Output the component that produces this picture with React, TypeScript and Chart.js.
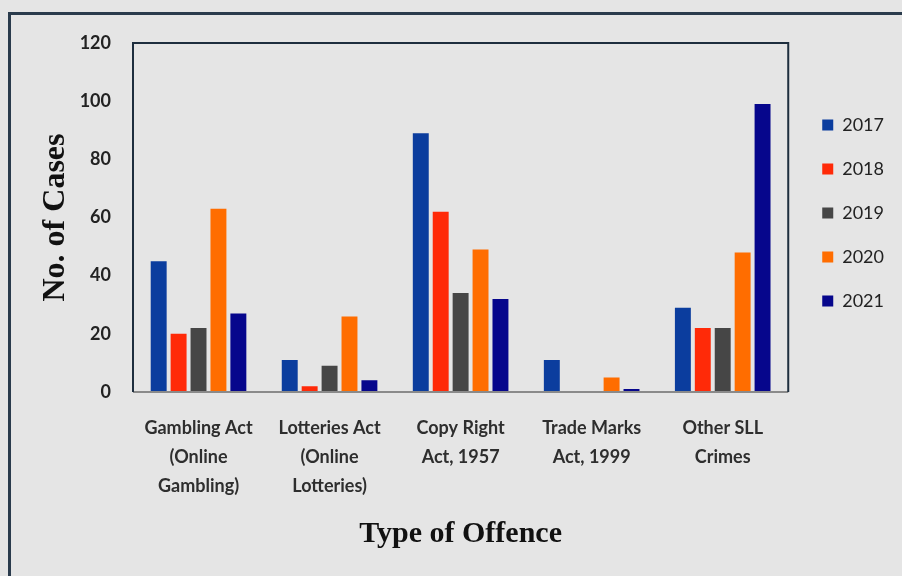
import React, { useEffect, useRef } from "react";
import { Chart, registerables } from "chart.js";

Chart.register(...registerables);

const categories: string[][] = [
  ["Gambling Act", "(Online", "Gambling)"],
  ["Lotteries Act", "(Online", "Lotteries)"],
  ["Copy Right", "Act, 1957"],
  ["Trade Marks", "Act, 1999"],
  ["Other SLL", "Crimes"],
];

const years = ["2017", "2018", "2019", "2020", "2021"];

const cases2017 = [45, 11, 89, 11, 29];
const cases2018 = [20, 2, 62, 0, 22];
const cases2019 = [22, 9, 34, 0, 22];
const cases2020 = [63, 26, 49, 5, 48];
const cases2021 = [27, 4, 32, 1, 99];

const seriesValues = [cases2017, cases2018, cases2019, cases2020, cases2021];
const seriesColors = ["#0b3d9e", "#ff2a08", "#464646", "#ff6d00", "#06068c"];

const yTicks = [0, 20, 40, 60, 80, 100, 120];

const frame = {
  id: "plotFrame",
  afterDatasetsDraw(chart: any) {
    const { ctx, chartArea } = chart;
    const { left, right, top, bottom } = chartArea;
    ctx.save();
    ctx.strokeStyle = "#8a8a8a";
    ctx.lineWidth = 2;
    ctx.beginPath();
    ctx.moveTo(left, bottom);
    ctx.lineTo(right, bottom);
    ctx.stroke();
    ctx.strokeStyle = "#1e2e3e";
    ctx.lineWidth = 2;
    ctx.beginPath();
    ctx.moveTo(left, bottom);
    ctx.lineTo(left, top);
    ctx.lineTo(right, top);
    ctx.lineTo(right, bottom);
    ctx.stroke();
    ctx.restore();
  },
};

const legendShift = {
  id: "legendShift",
  afterLayout(chart: any) {
    const lg = chart.legend;
    if (lg) {
      const h = lg.bottom - lg.top;
      lg.top = 90;
      lg.bottom = 90 + h;
      lg.left += 8;
      lg.right += 8;
    }
  },
};

export default function App() {
  const ref = useRef<HTMLCanvasElement | null>(null);

  useEffect(() => {
    if (!ref.current) return;
    const chart = new Chart(ref.current, {
      type: "bar",
      data: {
        labels: categories as any,
        datasets: years.map((y, i) => ({
          label: y,
          data: seriesValues[i],
          backgroundColor: seriesColors[i],
          borderWidth: 0,
          categoryPercentage: 0.76,
          barPercentage: 0.8,
        })),
      },
      options: {
        animation: false,
        responsive: false,
        maintainAspectRatio: false,
        layout: { padding: { left: 33, top: 43, right: 16, bottom: 14 } },
        plugins: {
          tooltip: { enabled: false },
          legend: {
            position: "right",
            align: "start",
            labels: {
              boxWidth: 11,
              boxHeight: 11,
              padding: 26,
              color: "#222",
              font: { family: "Lato", size: 18 },
            },
          },
        },
        scales: {
          x: {
            grid: { display: false },
            border: { display: false },
            ticks: {
              color: "#2e2e2e",
              font: { family: "Lato", size: 18, weight: "bold", lineHeight: 1.6 },
              maxRotation: 0,
              autoSkip: false,
              padding: 14,
            },
            title: {
              display: true,
              text: "Type of Offence",
              color: "#111",
              font: { family: "Liberation Serif", size: 30, weight: "bold" },
              padding: { top: 4, bottom: 10 },
            },
            afterFit(scale: any) {
              scale.height = 576 - 392 - 14;
            },
          },
          y: {
            min: 0,
            max: 120,
            afterBuildTicks(scale: any) {
              scale.ticks = yTicks.map((v) => ({ value: v }));
            },
            grid: { display: false },
            border: { display: false },
            ticks: {
              color: "#222",
              font: { family: "Lato", size: 18, weight: "bold" },
              padding: 14,
            },
            title: {
              display: true,
              text: "No. of Cases",
              color: "#111",
              font: { family: "Liberation Serif", size: 32, weight: "bold" },
              padding: { top: 4, bottom: 4 },
            },
            afterFit(scale: any) {
              scale.width = 133 - 33;
            },
          },
        },
      },
      plugins: [frame, legendShift],
    });
    return () => chart.destroy();
  }, []);

  return (
    <div
      style={{
        position: "fixed",
        left: 0,
        top: 0,
        width: 902,
        height: 576,
        overflow: "hidden",
        background: "#e5e5e5",
      }}
    >
      <div
        style={{
          position: "absolute",
          left: 8,
          top: 12,
          width: 960,
          height: 640,
          border: "3px solid #2a3b4c",
          boxSizing: "border-box",
        }}
      />
      <canvas
        ref={ref}
        width={902}
        height={576}
        style={{ position: "absolute", left: 0, top: 0, width: 902, height: 576 }}
      />
    </div>
  );
}
